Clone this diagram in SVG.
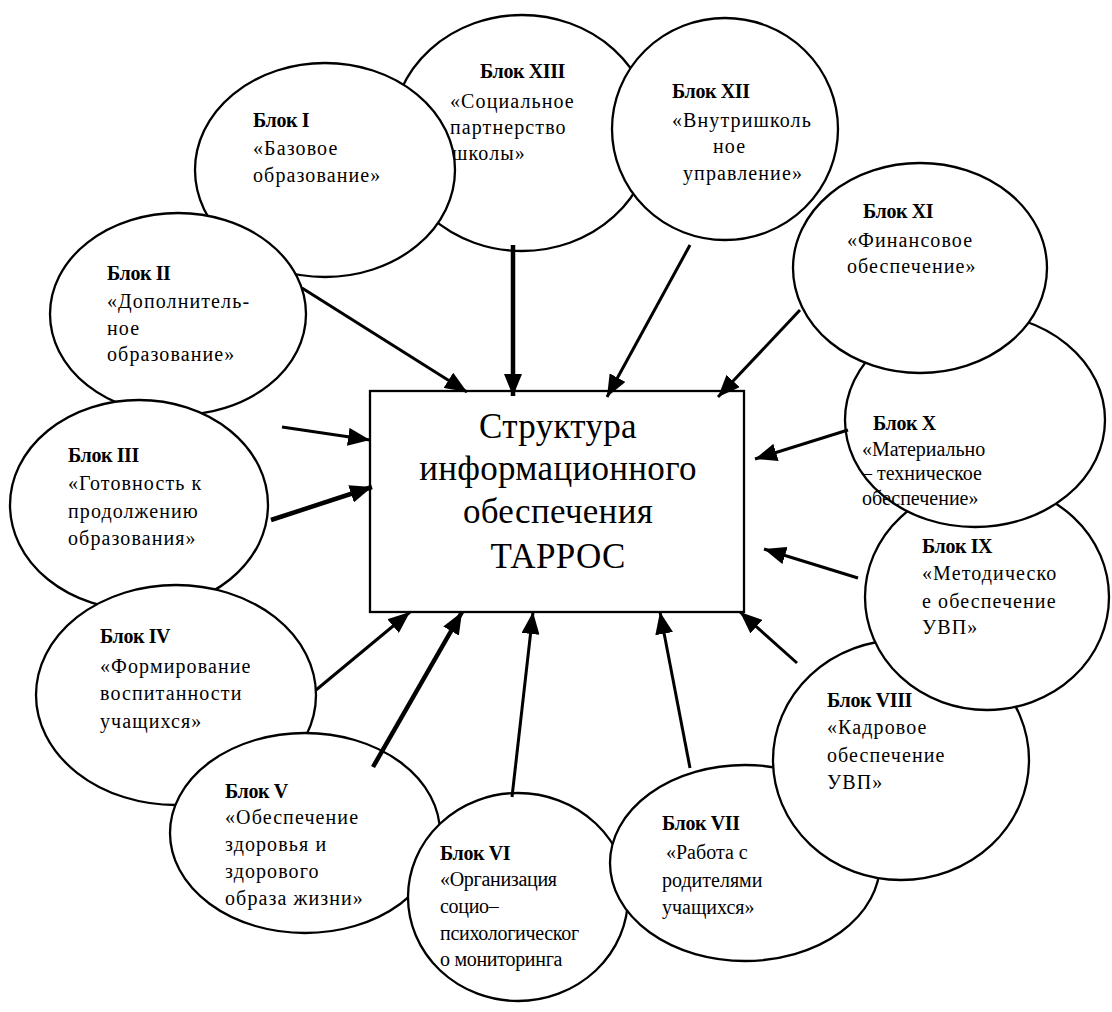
<svg xmlns="http://www.w3.org/2000/svg" width="1112" height="1012" viewBox="0 0 1112 1012">
<style>
.ell{fill:#fff;stroke:#000;stroke-width:2.3}
.t{font-size:20px;letter-spacing:1.1px;fill:#000}
.n{letter-spacing:0px}
.m{letter-spacing:-0.3px}
.b{font-size:20px;font-weight:bold;letter-spacing:-0.4px;fill:#000}
.c{font-size:35px;letter-spacing:0.3px;fill:#000;text-anchor:middle}
.ar{stroke:#000;stroke-width:3;fill:none;marker-end:url(#ah)}
.ar.k{stroke-width:4.5}
</style>
<defs>
<marker id="ah" viewBox="0 0 22 18" refX="22" refY="9" markerWidth="22" markerHeight="18" markerUnits="userSpaceOnUse" orient="auto">
<path d="M0,0 L22,9 L0,18 z" fill="#000"/>
</marker>
</defs>
<rect fill="#fff" width="1112" height="1012"/>
<g font-family="Liberation Serif, DejaVu Serif, serif">
<g id="blok13">
<ellipse class="ell" cx="522" cy="133" rx="130" ry="118"/>
<text class="b" x="480" y="78">Блок XIII</text>
<text class="t" x="450" y="108">«Социальное</text>
<text class="t" x="450" y="134">партнерство</text>
<text class="t" x="452" y="160">школы»</text>
</g>
<g id="blok1">
<ellipse class="ell" cx="325" cy="170" rx="130" ry="107"/>
<text class="b" x="253" y="127">Блок I</text>
<text class="t" x="253" y="155">«Базовое</text>
<text class="t" x="253" y="182">образование»</text>
</g>
<g id="blok2">
<ellipse class="ell" cx="178" cy="314" rx="128" ry="101"/>
<text class="b" x="107" y="280">Блок II</text>
<text class="t" x="107" y="308">«Дополнитель-</text>
<text class="t" x="107" y="335">ное</text>
<text class="t" x="107" y="361">образование»</text>
</g>
<g id="blok3">
<ellipse class="ell" cx="139" cy="505" rx="129" ry="105"/>
<text class="b" x="68" y="462">Блок III</text>
<text class="t" x="68" y="490">«Готовность к</text>
<text class="t" x="68" y="518" letter-spacing="1.6">продолжению</text>
<text class="t" x="68" y="545">образования»</text>
</g>
<g id="blok4">
<ellipse class="ell" cx="176" cy="695" rx="140" ry="110"/>
<text class="b" x="100" y="643">Блок IV</text>
<text class="t" x="100" y="673">«Формирование</text>
<text class="t" x="100" y="700">воспитанности</text>
<text class="t" x="100" y="728">учащихся»</text>
</g>
<g id="blok5">
<ellipse class="ell" cx="305" cy="833" rx="135" ry="100"/>
<text class="b" x="225" y="798">Блок V</text>
<text class="t" x="225" y="824">«Обеспечение</text>
<text class="t" x="225" y="851">здоровья и</text>
<text class="t" x="225" y="878">здорового</text>
<text class="t" x="225" y="905">образа жизни»</text>
</g>
<g id="blok6">
<ellipse class="ell" cx="518" cy="897" rx="110" ry="104"/>
<text class="b" x="440" y="860">Блок VI</text>
<text class="t m" x="440" y="886">«Организация</text>
<text class="t m" x="440" y="913">социо–</text>
<text class="t m" x="440" y="940">психологическог</text>
<text class="t m" x="440" y="966">о мониторинга</text>
</g>
<g id="blok7">
<ellipse class="ell" cx="745" cy="863" rx="135" ry="98"/>
<text class="b" x="662" y="830">Блок VII</text>
<text class="t n" x="666" y="859">«Работа с</text>
<text class="t n" x="662" y="887">родителями</text>
<text class="t n" x="662" y="914">учащихся»</text>
</g>
<g id="blok8">
<ellipse class="ell" cx="901" cy="760" rx="128" ry="120"/>
<text class="b" x="827" y="707">Блок VIII</text>
<text class="t" x="827" y="734">«Кадровое</text>
<text class="t" x="827" y="762">обеспечение</text>
<text class="t" x="827" y="789">УВП»</text>
</g>
<g id="blok9">
<ellipse class="ell" cx="987" cy="597" rx="122" ry="113"/>
<text class="b" x="922" y="553">Блок IX</text>
<text class="t" x="922" y="580">«Методическо</text>
<text class="t" x="922" y="608">е обеспечение</text>
<text class="t" x="922" y="634">УВП»</text>
</g>
<g id="blok10">
<ellipse class="ell" cx="975" cy="420" rx="130" ry="107"/>
<text class="b" x="873" y="430">Блок X</text>
<text class="t n" x="862" y="456">«Материально</text>
<text class="t n" x="862" y="480">– техническое</text>
<text class="t n" x="862" y="505">обеспечение»</text>
</g>
<g id="blok11">
<ellipse class="ell" cx="920" cy="268" rx="127" ry="105"/>
<text class="b" x="863" y="218">Блок XI</text>
<text class="t" x="847" y="247">«Финансовое</text>
<text class="t" x="847" y="273">обеспечение»</text>
</g>
<g id="blok12">
<ellipse class="ell" cx="725" cy="129" rx="113" ry="111"/>
<text class="b" x="672" y="98">Блок XII</text>
<text class="t" x="672" y="127">«Внутришколь</text>
<text class="t" x="713" y="153">ное</text>
<text class="t" x="683" y="180">управление»</text>
</g>
<g id="center">
<rect x="370" y="391" width="374" height="221" fill="#fff" stroke="#000" stroke-width="2.3"/>
<text class="c" x="558" y="438">Структура</text>
<text class="c" x="558" y="480">информационного</text>
<text class="c" x="558" y="523">обеспечения</text>
<text class="c" x="558" y="568">ТАРРОС</text>
</g>
</g>
<g id="connectors">
<line class="ar" x1="302" y1="288" x2="467" y2="392"/>
<line class="ar k" x1="513" y1="245" x2="513" y2="396"/>
<line class="ar" x1="690" y1="245" x2="607" y2="397"/>
<line class="ar" x1="800" y1="310" x2="718" y2="397"/>
<line class="ar" x1="282" y1="427" x2="370" y2="440"/>
<line class="ar k" x1="271" y1="520" x2="372" y2="487"/>
<line class="ar" x1="316" y1="690" x2="410" y2="612"/>
<line class="ar k" x1="373" y1="767" x2="462" y2="612"/>
<line class="ar" x1="512" y1="797" x2="533" y2="612"/>
<line class="ar" x1="690" y1="768" x2="660" y2="612"/>
<line class="ar" x1="797" y1="663" x2="740" y2="612"/>
<line class="ar" x1="858" y1="578" x2="764" y2="549"/>
<line class="ar" x1="848" y1="430" x2="755" y2="459"/>
</g>
</svg>
